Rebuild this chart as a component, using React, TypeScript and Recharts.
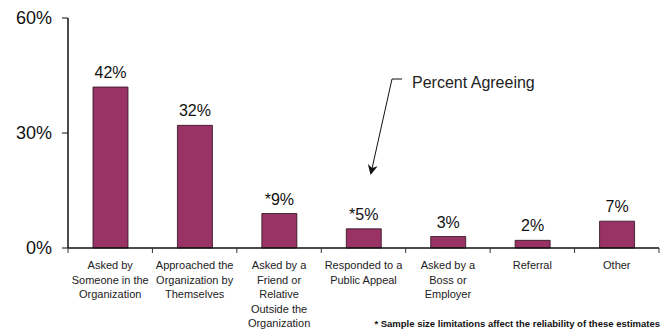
import React from "react";
import { BarChart, Bar, XAxis, YAxis, LabelList } from "recharts";

const categories = [
  "Asked by|Someone in the|Organization",
  "Approached the|Organization by|Themselves",
  "Asked by a|Friend or|Relative|Outside the|Organization",
  "Responded to a|Public Appeal",
  "Asked by a|Boss or|Employer",
  "Referral",
  "Other",
];
const percentAgreeing = [42, 32, 9, 5, 3, 2, 7];
const valueLabels = ["42%", "32%", "*9%", "*5%", "3%", "2%", "7%"];
const yTicks = [0, 30, 60];

const data = categories.map((c, i) => ({
  name: c,
  value: percentAgreeing[i],
  label: valueLabels[i],
}));

const W = 665;
const H = 333;
const M = { top: 18, right: 6, left: 0, bottom: 0 };
const YW = 68;
const XH = 85;
const plotW = W - M.left - M.right - YW;
const band = plotW / categories.length;
const FONT = "'Liberation Sans', Arial, sans-serif";

const CatTick = (props: any) => {
  const { x, y, payload, index } = props;
  const lines = String(payload.value).split("|");
  const left = x - band / 2;
  return (
    <g>
      <line x1={left} x2={left} y1={y - 8} y2={y - 3} stroke="#333" strokeWidth={1} />
      {index === categories.length - 1 && (
        <line x1={left + band} x2={left + band} y1={y - 8} y2={y - 3} stroke="#333" strokeWidth={1} />
      )}
      <text textAnchor="middle" fontFamily={FONT} fontSize={11} fill="#222">
        {lines.map((l, i) => (
          <tspan key={i} x={x} y={y + 13 + i * 14.5}>
            {l}
          </tspan>
        ))}
      </text>
    </g>
  );
};

export default function App() {
  return (
    <div style={{ position: "absolute", left: 0, top: 0, width: W, height: H, background: "#fff" }}>
      <BarChart width={W} height={H} data={data} margin={M} barCategoryGap={0}>
        <XAxis
          dataKey="name"
          xAxisId="t"
          orientation="top"
          height={0}
          tick={false}
          tickLine={false}
          axisLine={{ stroke: "#999", strokeWidth: 1 }}
        />
        <YAxis
          yAxisId="r"
          orientation="right"
          width={0}
          domain={[0, 60]}
          tick={false}
          tickLine={false}
          axisLine={{ stroke: "#999", strokeWidth: 1 }}
        />
        <XAxis
          dataKey="name"
          height={XH}
          interval={0}
          tickLine={false}
          axisLine={{ stroke: "#111", strokeWidth: 1.5 }}
          tick={<CatTick />}
        />
        <YAxis
          width={YW}
          domain={[0, 60]}
          ticks={yTicks}
          interval={0}
          tickFormatter={(v: number) => `${v}%`}
          tickSize={6}
          tickMargin={10}
          tickLine={{ stroke: "#111" }}
          axisLine={{ stroke: "#111", strokeWidth: 1.5 }}
          tick={{ fontFamily: FONT, fontSize: 18, fill: "#111" }}
        />
        <Bar
          dataKey="value"
          fill="#993366"
          stroke="#2a0f1c"
          strokeWidth={0.8}
          barSize={35}
          isAnimationActive={false}
        >
          <LabelList
            dataKey="label"
            position="top"
            offset={9}
            style={{ fontFamily: FONT, fontSize: 16, fill: "#111" }}
          />
        </Bar>
      </BarChart>
      <svg width={W} height={H} style={{ position: "absolute", left: 0, top: 0, pointerEvents: "none" }}>
        <defs>
          <marker id="arr" markerWidth="10" markerHeight="10" refX="8" refY="5" orient="auto" markerUnits="userSpaceOnUse">
            <path d="M0,0 L10,5 L0,10 L3,5 z" fill="#111" />
          </marker>
        </defs>
        <polyline
          points="402,79 392,79 371,173"
          fill="none"
          stroke="#111"
          strokeWidth={1}
          markerEnd="url(#arr)"
        />
        <text x={412} y={88} fontFamily={FONT} fontSize={16} fill="#222">
          Percent Agreeing
        </text>
        <text x={660} y={327} textAnchor="end" fontFamily={FONT} fontSize={9.5} fontWeight="bold" fill="#111">
          * Sample size limitations affect the reliability of these estimates
        </text>
      </svg>
    </div>
  );
}
